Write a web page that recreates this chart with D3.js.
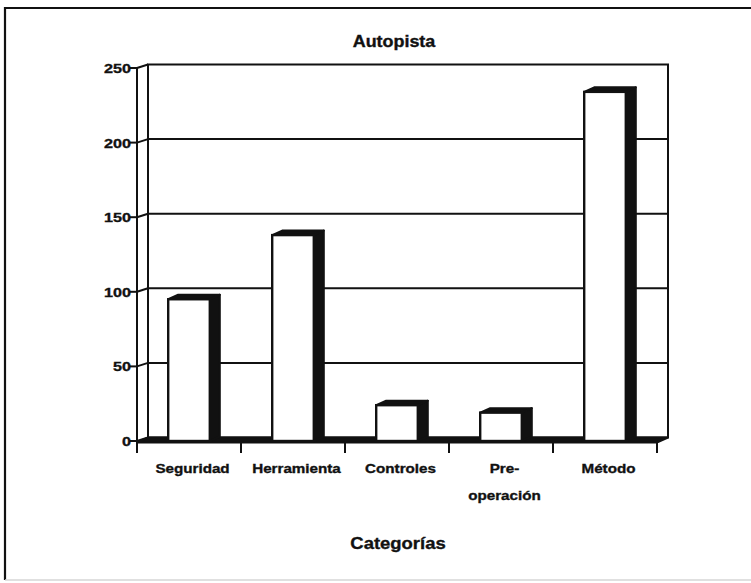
<!DOCTYPE html>
<html>
<head>
<meta charset="utf-8">
<script src="https://cdn.jsdelivr.net/npm/d3@7"></script>
<style>
  html, body { margin: 0; padding: 0; background: #fff; }
  svg { display: block; }
  text { font-family: "Liberation Sans", Arial, sans-serif; font-weight: bold; fill: #111; stroke: #111; stroke-width: 0.35px; }
</style>
</head>
<body>
<svg id="chart" width="751" height="583"></svg>
<script>
// Chart data
const categories = ["Seguridad", "Herramienta", "Controles", "Pre-operación", "Método"];
const categoryLines = [["Seguridad"], ["Herramienta"], ["Controles"], ["Pre-", "operación"], ["Método"]];
const values = [95, 138, 24, 19, 234];
const yTicks = [0, 50, 100, 150, 200, 250];
const chartTitle = "Autopista";
const xAxisTitle = "Categorías";

const svg = d3.select("#chart");
const W = 751, H = 583;
const ink = "#111";

// Outer frame of the page
svg.append("rect").attr("width", W).attr("height", H).attr("fill", "#fff");
svg.append("path")
  .attr("d", `M5,${H - 3} L5,8 L${W + 2},8`)
  .attr("fill", "none").attr("stroke", ink).attr("stroke-width", 2.2);
svg.append("line")
  .attr("x1", 5).attr("x2", W).attr("y1", 580).attr("y2", 580)
  .attr("stroke", "#d6d6d6").attr("stroke-width", 1.5);

// Plot geometry: front plane and depth offset of the 3D walls
const left = 137, right = 657;
const depthX = 11, depthY = -3.5;

const x = d3.scaleBand().domain(categories).range([left, right]).paddingInner(0).paddingOuter(0);
const y = d3.scaleLinear().domain([0, 250]).range([441, 68]);

// Text helper with horizontal stretch
function label(g, tx, ty, str, size, anchor, sx) {
  const t = g.append("g").attr("transform", `translate(${tx},${ty}) scale(${sx},1)`);
  t.append("text").attr("font-size", size).attr("text-anchor", anchor).text(str);
  return t;
}

const plot = svg.append("g");

// Back wall
plot.append("rect")
  .attr("x", left + depthX).attr("y", y(250) + depthY)
  .attr("width", right - left).attr("height", y(0) - y(250))
  .attr("fill", "#fff").attr("stroke", ink).attr("stroke-width", 2);

// Horizontal gridlines on the back wall and the side wall
yTicks.forEach(v => {
  if (v > 0 && v < 250) {
    plot.append("line")
      .attr("x1", left + depthX).attr("x2", right + depthX)
      .attr("y1", y(v) + depthY).attr("y2", y(v) + depthY)
      .attr("stroke", ink).attr("stroke-width", 2);
  }
  plot.append("line")
    .attr("x1", left).attr("x2", left + depthX)
    .attr("y1", y(v)).attr("y2", y(v) + depthY)
    .attr("stroke", ink).attr("stroke-width", 2);
});

// Side wall edges
plot.append("line").attr("x1", left).attr("x2", left).attr("y1", y(250)).attr("y2", y(0))
  .attr("stroke", ink).attr("stroke-width", 2);
plot.append("line").attr("x1", left + depthX).attr("x2", left + depthX)
  .attr("y1", y(250) + depthY).attr("y2", y(0) + depthY)
  .attr("stroke", ink).attr("stroke-width", 2);

// Floor slab
plot.append("path")
  .attr("d", `M${left},${y(0) + 1.5} L${right},${y(0) + 1.5} L${right + depthX},${y(0) + depthY} L${left + depthX},${y(0) + depthY} Z`)
  .attr("fill", ink).attr("stroke", ink).attr("stroke-width", 2);

// Y axis ticks and labels
const yAxis = svg.append("g");
yTicks.forEach(v => {
  yAxis.append("line").attr("x1", left - 7).attr("x2", left)
    .attr("y1", y(v)).attr("y2", y(v))
    .attr("stroke", ink).attr("stroke-width", 2);
  label(yAxis, left - 6, y(v) + 5, String(v), 13.5, "end", 1.2);
});

// X axis ticks at category boundaries
const bounds = categories.map(c => x(c)).concat([right]);
bounds.forEach(bx => {
  svg.append("line").attr("x1", bx).attr("x2", bx)
    .attr("y1", y(0)).attr("y2", y(0) + 12)
    .attr("stroke", ink).attr("stroke-width", 2);
});

// 3D bars
const barW = x.bandwidth() * 0.4;
const bdx = 10, bdy = -4.5;
const bars = svg.append("g");
categories.forEach((c, i) => {
  const cx = x(c) + x.bandwidth() / 2;
  const x0 = cx - barW / 2, x1 = cx + barW / 2;
  const top = y(values[i]), bot = y(0);
  // side face
  bars.append("path")
    .attr("d", `M${x1},${top} L${x1 + bdx},${top + bdy} L${x1 + bdx},${bot + bdy} L${x1},${bot} Z`)
    .attr("fill", ink).attr("stroke", ink).attr("stroke-width", 2).attr("stroke-linejoin", "round");
  // top face
  bars.append("path")
    .attr("d", `M${x0},${top} L${x0 + bdx},${top + bdy} L${x1 + bdx},${top + bdy} L${x1},${top} Z`)
    .attr("fill", ink).attr("stroke", ink).attr("stroke-width", 2).attr("stroke-linejoin", "round");
  // front face
  bars.append("rect")
    .attr("x", x0).attr("y", top).attr("width", barW).attr("height", bot - top)
    .attr("fill", "#fff").attr("stroke", ink).attr("stroke-width", 2.4);
});

// Category labels, centred under each bar including its depth
const xLabels = svg.append("g");
categories.forEach((c, i) => {
  const cx = x(c) + x.bandwidth() / 2 + 3.5;
  categoryLines[i].forEach((ln, k) => {
    label(xLabels, cx, 472.5 + k * 27, ln, 13, "middle", 1.17);
  });
});

// Titles
label(svg, 394, 47, chartTitle, 16, "middle", 1.12);
label(svg, 398, 549, xAxisTitle, 16.5, "middle", 1.12);
</script>
</body>
</html>
